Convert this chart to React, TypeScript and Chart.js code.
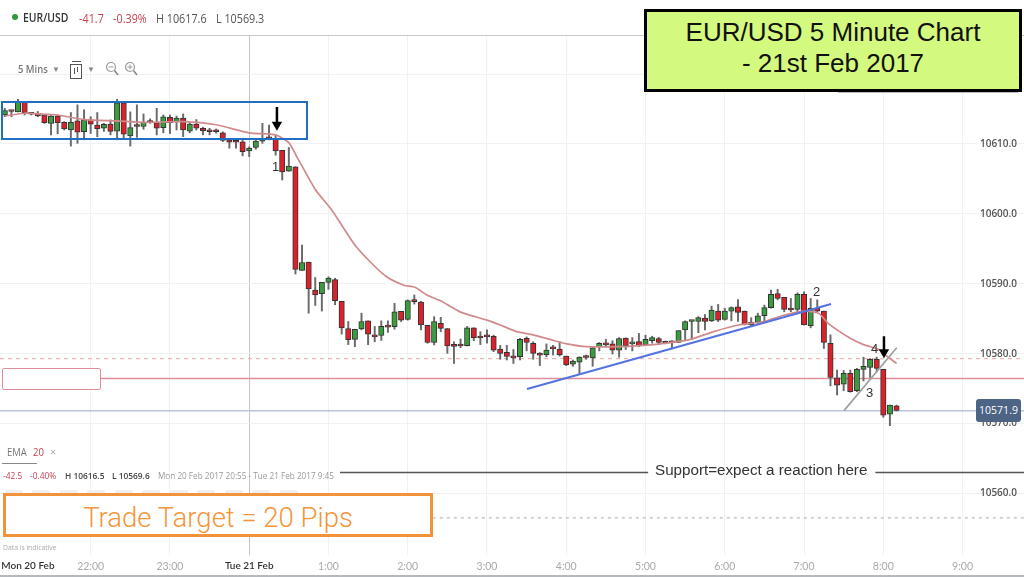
import { useEffect, useRef } from 'react'
import { Chart, registerables } from 'chart.js'

Chart.register(...registerables)

// one candle every 5 minutes, index 0 = Mon 20 Feb 20:55
const opens = [
  10614.15, 10614.7, 10614.6, 10615.95, 10614.4, 10614.4, 10614.15, 10612.95, 10614.0, 10613.1,
  10612.0, 10613.3, 10611.75, 10613.45, 10612.7, 10612.25, 10612.85, 10611.85, 10615.9, 10611.15,
  10612.55, 10612.5, 10613.35, 10613.05, 10612.35, 10613.8, 10613.2, 10613.7, 10611.85, 10612.85,
  10612.25, 10611.85, 10611.9, 10611.6, 10610.6, 10610.35, 10610.3, 10609.0, 10609.5, 10610.4,
  10610.9, 10610.7, 10609.1, 10606.1, 10606.75, 10591.9, 10593.1, 10589.1, 10588.6, 10590.2,
  10590.6, 10587.5, 10583.6, 10582.05, 10583.55, 10584.7, 10582.7, 10582.6, 10583.95, 10583.85,
  10586.05, 10584.9, 10587.55, 10587.4, 10584.05, 10581.6, 10584.35, 10583.6, 10581.1, 10581.3,
  10581.15, 10583.7, 10582.4, 10582.55, 10582.5, 10580.65, 10580.2, 10579.5, 10579.57, 10582.2,
  10581.5, 10579.95, 10579.85, 10580.85, 10580.65, 10579.65, 10578.5, 10578.8, 10579.55, 10579.4,
  10581.0, 10581.4, 10581.4, 10580.5, 10582.25, 10581.4, 10581.75, 10581.3, 10581.85, 10582.15,
  10581.55, 10581.65, 10581.6, 10583.4, 10584.6, 10584.6, 10585.1, 10584.7, 10586.1, 10584.9,
  10586.1, 10586.7, 10586.1, 10584.1, 10584.5, 10585.45, 10586.6, 10588.6, 10588.05, 10586.3,
  10586.35, 10588.5, 10584.0, 10586.5, 10586.1, 10581.5, 10576.55, 10575.65, 10577.2, 10574.7,
  10577.75, 10578.05, 10579.2, 10577.75, 10571.35, 10572.55,
]
const closes = [
  10614.77, 10614.65, 10616.15, 10614.4, 10614.25, 10614.0, 10613.05, 10614.0, 10613.05, 10612.15,
  10613.1, 10611.7, 10613.45, 10612.85, 10612.2, 10612.8, 10611.8, 10615.9, 10611.4, 10612.35,
  10612.5, 10613.15, 10613.05, 10612.25, 10613.9, 10613.05, 10613.7, 10612.0, 10612.85, 10612.25,
  10611.9, 10611.75, 10611.75, 10610.5, 10610.25, 10610.25, 10608.9, 10609.4, 10610.4, 10610.8,
  10610.75, 10609.0, 10606.0, 10606.85, 10592.07, 10593.05, 10589.25, 10588.4, 10590.2, 10590.8,
  10587.6, 10583.7, 10582.0, 10583.5, 10584.6, 10582.8, 10582.4, 10583.9, 10583.8, 10586.0,
  10584.8, 10587.6, 10587.45, 10584.1, 10581.6, 10584.6, 10583.6, 10581.1, 10581.05, 10581.1,
  10583.7, 10582.3, 10582.25, 10582.4, 10580.5, 10580.05, 10579.6, 10579.4, 10582.05, 10581.6,
  10580.05, 10579.8, 10580.5, 10580.7, 10579.85, 10578.4, 10578.95, 10579.5, 10579.45, 10580.85,
  10581.5, 10581.25, 10580.5, 10582.15, 10581.15, 10581.7, 10581.1, 10582.05, 10582.3, 10581.6,
  10581.5, 10581.55, 10583.3, 10584.6, 10584.65, 10585.15, 10584.6, 10586.25, 10584.8, 10586.1,
  10586.6, 10585.9, 10584.2, 10584.5, 10585.4, 10586.6, 10588.5, 10587.9, 10586.35, 10586.25,
  10588.5, 10584.1, 10586.5, 10586.1, 10581.6, 10576.6, 10575.5, 10577.2, 10574.55, 10577.75,
  10578.2, 10579.2, 10577.9, 10571.2, 10572.65, 10571.9,
]
const highs = [
  10615.1, 10614.75, 10616.4, 10616.05, 10614.4, 10614.65, 10614.15, 10614.15, 10614.15, 10613.2,
  10614.5, 10615.6, 10614.9, 10613.9, 10614.5, 10612.95, 10613.45, 10616.4, 10616.0, 10614.6,
  10615.6, 10614.3, 10613.6, 10615.1, 10614.15, 10614.15, 10614.0, 10614.3, 10613.1, 10613.5,
  10612.4, 10612.25, 10612.15, 10611.75, 10610.7, 10610.45, 10610.6, 10609.6, 10610.8, 10612.95,
  10612.7, 10611.3, 10609.1, 10609.5, 10606.75, 10595.55, 10593.1, 10590.9, 10590.2, 10591.0,
  10590.8, 10587.5, 10584.6, 10583.5, 10585.8, 10584.7, 10583.9, 10584.7, 10584.7, 10587.2,
  10586.05, 10587.7, 10588.4, 10587.5, 10584.05, 10585.3, 10585.2, 10583.6, 10581.7, 10582.1,
  10583.9, 10583.7, 10583.15, 10583.4, 10582.65, 10581.2, 10581.2, 10580.6, 10582.2, 10582.4,
  10581.7, 10580.15, 10581.4, 10581.2, 10581.7, 10579.65, 10579.1, 10579.55, 10579.8, 10581.0,
  10581.6, 10582.05, 10581.85, 10582.3, 10582.25, 10582.3, 10582.9, 10582.65, 10582.5, 10582.35,
  10581.8, 10581.85, 10583.3, 10584.7, 10584.75, 10585.3, 10585.6, 10586.8, 10587.05, 10586.5,
  10586.7, 10587.75, 10586.1, 10585.15, 10585.8, 10586.95, 10589.1, 10589.2, 10588.05, 10587.9,
  10588.7, 10588.85, 10587.9, 10587.7, 10586.1, 10582.7, 10577.65, 10577.6, 10577.65, 10577.9,
  10579.5, 10579.3, 10579.5, 10577.75, 10572.65, 10572.65,
]
const lows = [
  10613.9, 10613.9, 10614.6, 10614.15, 10614.15, 10613.9, 10612.95, 10611.3, 10611.45, 10612.0,
  10609.7, 10610.1, 10610.6, 10611.5, 10611.05, 10611.8, 10611.3, 10610.6, 10610.8, 10609.7,
  10610.95, 10612.1, 10612.95, 10611.3, 10611.6, 10611.5, 10612.0, 10611.05, 10611.6, 10612.0,
  10611.3, 10611.3, 10611.55, 10610.35, 10609.4, 10609.4, 10608.3, 10608.2, 10609.25, 10610.1,
  10610.6, 10608.4, 10604.85, 10606.1, 10591.4, 10591.9, 10585.8, 10586.9, 10586.1, 10589.2,
  10587.0, 10582.8, 10581.3, 10581.0, 10583.4, 10581.3, 10581.7, 10581.9, 10583.05, 10583.5,
  10584.6, 10584.8, 10587.1, 10583.4, 10581.5, 10581.25, 10583.15, 10580.05, 10578.6, 10580.85,
  10581.1, 10581.85, 10581.3, 10581.5, 10580.3, 10579.2, 10579.1, 10578.6, 10579.1, 10580.4,
  10579.2, 10578.3, 10579.55, 10579.8, 10579.65, 10578.3, 10578.2, 10577.1, 10579.2, 10578.2,
  10580.4, 10581.0, 10579.95, 10579.5, 10580.6, 10580.4, 10581.0, 10581.15, 10581.5, 10581.3,
  10581.4, 10580.75, 10581.6, 10581.85, 10582.0, 10583.0, 10583.4, 10584.6, 10584.6, 10584.8,
  10584.7, 10584.6, 10584.1, 10584.0, 10584.3, 10584.6, 10586.5, 10587.7, 10586.0, 10586.0,
  10585.9, 10584.1, 10583.7, 10586.0, 10580.75, 10575.4, 10574.1, 10574.7, 10574.5, 10574.55,
  10576.1, 10576.6, 10577.4, 10570.9, 10569.7, 10571.8,
]

const emaIndex = [
  0, 3, 6, 8, 12, 17, 21, 27, 32, 37, 41, 43, 44.2, 47, 49.5, 52.8, 55.3, 57.8, 60.4, 62.1, 63.9,
  65.9, 69, 73, 75, 77.5, 80, 82.5, 85.1, 88.1, 92.7, 96.2, 99.2, 103.8, 107.3, 111.1, 114.9, 117.9,
  120.9, 123.2, 124.7, 128, 130, 132.3, 133.6, 135,
]
const emaValues = [
  10614.0, 10614.4, 10614.25, 10614.15, 10613.5, 10613.3, 10613.1, 10613.2, 10612.75, 10611.6,
  10611.3, 10610.2, 10608.2, 10603.5, 10600.55, 10595.8, 10593.15, 10591, 10589.8, 10589.5, 10588.4,
  10587.6, 10585.95, 10584.8, 10584.1, 10583.15, 10582.7, 10582.05, 10581.4, 10581, 10581, 10581.15,
  10581.4, 10582.05, 10583.15, 10584.1, 10584.6, 10585.5, 10586.1, 10585.8, 10584.3, 10582.2,
  10581.3, 10580.6, 10579.6, 10578.6,
]

const priceTicks = [10620, 10610, 10600, 10590, 10580, 10570, 10560]
const timeTickIndex = [3.5, 13, 25, 37, 49, 61, 73, 85, 97, 109, 121, 133, 145]
const timeTickLabels = ['Mon 20 Feb', '22:00', '23:00', 'Tue 21 Feb', '1:00', '2:00', '3:00', '4:00', '5:00', '6:00', '7:00', '8:00', '9:00']

const targetPrice = 10576.45
const resistPrice = 10579.3
const lastPrice = 10571.85
const supportPrice = 10563.0
const tradeTargetPrice = 10556.5
const blueTrend = [{ x: 79.06, y: 10574.95 }, { x: 125.09, y: 10587.1 }]
const grayTrend = [{ x: 127.05, y: 10571.85 }, { x: 135.03, y: 10580.85 }]
const arrowOne = [{ x: 41.2, y: 10615.3 }, { x: 41.2, y: 10612.75 }]
const arrowTwo = [{ x: 133.1, y: 10582.5 }, { x: 133.1, y: 10580.2 }]

const X_MIN = -0.727
const X_MAX = 154.3

const RED = '#d9222c'
const GREEN = '#3b9c3f'
const UI_FONT = '"Open Sans", sans-serif'
const NOTE_FONT = '"Liberation Sans", sans-serif'
const faintButtons = [5, 32, 60, 87, 115, 142, 170, 197, 225, 252, 280]

function hline(y: number, from: number, to: number, color: string, width: number, dash: number[] = []) {
  return {
    type: 'line' as const,
    data: [{ x: from, y }, { x: to, y }],
    borderColor: color,
    borderWidth: width,
    borderDash: dash,
    pointRadius: 0,
    order: 6,
  }
}

function arrow(points: { x: number; y: number }[]) {
  return {
    type: 'line' as const,
    data: points,
    borderColor: '#000',
    borderWidth: 2.5,
    pointRadius: [0, 6],
    pointStyle: 'triangle',
    pointRotation: 180,
    pointBackgroundColor: '#000',
    pointBorderWidth: 0,
    order: 0,
  }
}

function Txt({ x, y, size, color, children, weight, font, squeeze }: any) {
  return (
    <div
      style={{
        position: 'absolute',
        left: x,
        top: y,
        transform: `translateY(-50%) scaleX(${squeeze ?? 1})`,
        transformOrigin: 'left center',
        fontSize: size,
        color,
        fontWeight: weight ?? 400,
        fontFamily: font ?? UI_FONT,
        whiteSpace: 'nowrap',
        lineHeight: 1,
      }}
    >
      {children}
    </div>
  )
}

function Lens({ x, y, plus }: { x: number; y: number; plus?: boolean }) {
  return (
    <svg style={{ position: 'absolute', left: x, top: y }} width="14" height="15" viewBox="0 0 14 15">
      <circle cx="6" cy="6" r="4.5" fill="none" stroke="#999" strokeWidth="1.2" />
      <path d="M9.5 9.5 L13 14" stroke="#888" strokeWidth="1.6" />
      <path d={plus ? 'M3.5 6 H8.5 M6 3.5 V8.5' : 'M3.5 6 H8.5'} stroke="#999" strokeWidth="1" />
    </svg>
  )
}

function App() {
  const canvasRef = useRef<HTMLCanvasElement>(null)

  useEffect(() => {
    if (!canvasRef.current) return
    const slots = opens.map((_, i) => i)
    const chart = new Chart(canvasRef.current, {
      type: 'bar',
      data: {
        datasets: [
          hline(resistPrice, X_MIN, X_MAX, '#f2b5ae', 1.2, [4, 4]),
          hline(targetPrice, 14.5, X_MAX, '#de8f98', 1.6),
          hline(lastPrice, X_MIN, X_MAX, '#bcc3d6', 1.5),
          hline(supportPrice, 50.75, 97.4, '#555', 1.3),
          hline(supportPrice, 131.8, X_MAX, '#555', 1.3),
          hline(tradeTargetPrice, 64.8, X_MAX, '#bbb', 1.2, [3, 4]),
          {
            label: 'wicks',
            data: slots.map((i) => ({ x: i, y: [lows[i], highs[i]] })),
            backgroundColor: '#6a6a6a',
            barThickness: 1.3,
            grouped: false,
            order: 4,
          },
          {
            label: 'bodies',
            data: slots.map((i) => ({ x: i, y: [opens[i], closes[i]] })),
            backgroundColor: slots.map((i) => (closes[i] >= opens[i] ? GREEN : RED)),
            borderColor: '#333',
            borderWidth: 1,
            borderSkipped: false,
            barThickness: 5.4,
            minBarLength: 2,
            grouped: false,
            order: 3,
          },
          {
            type: 'line',
            label: 'EMA 20',
            data: emaIndex.map((x, i) => ({ x, y: emaValues[i] })),
            borderColor: '#d08a8c',
            borderWidth: 1.7,
            pointRadius: 0,
            tension: 0.2,
            order: 2,
          },
          { type: 'line', data: blueTrend, borderColor: '#5473e0', borderWidth: 2, pointRadius: 0, order: 1 },
          { type: 'line', data: grayTrend, borderColor: '#a0a0a0', borderWidth: 1.7, pointRadius: 0, order: 1 },
          arrow(arrowOne),
          arrow(arrowTwo),
        ] as any,
      },
      options: {
        responsive: false,
        animation: false,
        devicePixelRatio: 1,
        layout: { autoPadding: false, padding: { top: 36, left: 0, right: 0, bottom: 0 } },
        plugins: { legend: { display: false }, tooltip: { enabled: false } },
        scales: {
          x: {
            type: 'linear',
            offset: false,
            min: X_MIN,
            max: X_MAX,
            border: { display: false },
            grid: {
              offset: false,
              drawTicks: false,
              color: (ctx: any) => {
                if (ctx.index === 0) return 'rgba(0,0,0,0)'
                return ctx.index === 3 ? '#c4c4c4' : '#f0f1f5'
              },
            },
            afterFit: (scale: any) => {
              scale.height = 22
              scale.paddingLeft = 0
              scale.paddingRight = 0
            },
            afterBuildTicks: (scale: any) => {
              scale.ticks = timeTickIndex.map((value) => ({ value }))
            },
            ticks: {
              autoSkip: false,
              maxRotation: 0,
              padding: 5,
              color: (ctx: any) => (ctx.index === 0 || ctx.index === 3 ? '#333' : '#aaa'),
              font: (ctx: any) => ({
                family: '"Lato", sans-serif',
                size: ctx.index === 0 || ctx.index === 3 ? 10 : 10.5,
                weight: ctx.index === 0 || ctx.index === 3 ? 600 : 400,
              }),
              callback: (_v: any, i: number) => timeTickLabels[i],
            },
          },
          y: {
            type: 'linear',
            position: 'right',
            min: 10551.2,
            max: 10625.45,
            border: { display: false },
            grid: { drawTicks: false, color: '#f0f1f5' },
            afterFit: (scale: any) => {
              scale.width = 0
              scale.paddingTop = 0
              scale.paddingBottom = 0
            },
            afterBuildTicks: (scale: any) => {
              scale.ticks = priceTicks.map((value) => ({ value }))
            },
            ticks: {
              mirror: true,
              padding: -7,
              color: '#555',
              font: { family: UI_FONT, size: 10, weight: 600 },
              callback: (v: any) => Number(v).toFixed(1),
            },
          },
        },
      },
    })
    return () => chart.destroy()
  }, [])

  return (
    <div style={{ position: 'absolute', left: 0, top: 0, width: 1024, height: 577, overflow: 'hidden', background: '#fff' }}>
      <canvas ref={canvasRef} width={1024} height={577} style={{ position: 'absolute', left: 0, top: 0, display: 'block' }} />

      {/* platform header */}
      <div style={{ position: 'absolute', left: 0, top: 35, width: 1024, height: 1, background: '#c8c8c8' }} />
      <div style={{ position: 'absolute', left: 12, top: 14, width: 6, height: 6, borderRadius: 3, background: '#2f9a3a' }} />
      <Txt x={23} y={17} size={13} color="#333" weight={600} squeeze={0.8}>EUR/USD</Txt>
      <Txt x={79} y={18} size={13} color="#c8414f" squeeze={0.83}>-41.7</Txt>
      <Txt x={113} y={18} size={13} color="#c8414f" squeeze={0.83}>-0.39%</Txt>
      <Txt x={156} y={18} size={13} color="#555" squeeze={0.83}>H 10617.6</Txt>
      <Txt x={216} y={18} size={13} color="#555" squeeze={0.83}>L 10569.3</Txt>

      <Txt x={18} y={69} size={10.5} color="#777" weight={600} squeeze={0.9}>5 Mins</Txt>
      <Txt x={52} y={69} size={8} color="#888">▼</Txt>
      <div style={{ position: 'absolute', left: 70, top: 64, width: 10, height: 13, border: '1px solid #555', background: '#fff' }} />
      <div style={{ position: 'absolute', left: 72, top: 61, width: 9, height: 1, background: '#555' }} />
      <div style={{ position: 'absolute', left: 74, top: 68, width: 1, height: 6, background: '#555' }} />
      <div style={{ position: 'absolute', left: 77, top: 67, width: 1, height: 5, background: '#555' }} />
      <Txt x={87} y={69} size={8} color="#888">▼</Txt>
      <Lens x={105} y={61} />
      <Lens x={124} y={61} plus />

      {/* tab peeking out under the title */}
      <div style={{ position: 'absolute', left: 837, top: 80, width: 180, height: 11, border: '1px solid #bbb', borderRadius: 2, background: '#fff' }} />
      <div style={{ position: 'absolute', left: 926, top: 80, width: 1, height: 11, background: '#bbb' }} />

      {/* annotations */}
      <div
        style={{
          position: 'absolute', left: 644, top: 9, width: 372, height: 71, border: '3.5px solid #000', background: '#d3f97e',
          fontFamily: NOTE_FONT, fontSize: 26, lineHeight: '31px', textAlign: 'center', color: '#111', paddingTop: 6, boxSizing: 'content-box',
        }}
      >
        <div style={{ marginTop: -1 }}>EUR/USD 5 Minute Chart</div>
        <div>- 21st Feb 2017</div>
      </div>

      <div style={{ position: 'absolute', left: 1, top: 101, width: 303, height: 35, border: '2px solid #1f6fc4' }} />
      <div style={{ position: 'absolute', left: 2, top: 368, width: 97, height: 20, border: '1.5px solid #de8f98', borderRadius: 2, background: '#fff' }} />

      <Txt x={272} y={166} size={13} color="#333" font={NOTE_FONT}>1</Txt>
      <Txt x={813} y={291} size={13} color="#333" font={NOTE_FONT}>2</Txt>
      <Txt x={866} y={392} size={13} color="#333" font={NOTE_FONT}>3</Txt>
      <Txt x={871} y={348} size={13} color="#333" font={NOTE_FONT}>4</Txt>

      <div style={{ position: 'absolute', left: 976, top: 399, width: 45, height: 23, borderRadius: 3, background: '#4d6484', color: '#fff', fontFamily: UI_FONT, fontSize: 10.5, lineHeight: '23px', textAlign: 'center' }}>
        10571.9
      </div>

      <Txt x={655} y={470} size={15.2} color="#333" font={NOTE_FONT}>Support=expect a reaction here</Txt>

      {/* EMA legend and range */}
      <Txt x={7} y={452} size={10.5} color="#777" squeeze={0.9}>EMA</Txt>
      <Txt x={33} y={452} size={10.5} color="#c8414f" squeeze={0.9}>20</Txt>
      <Txt x={50} y={451} size={11} color="#aaa">×</Txt>
      <div style={{ position: 'absolute', left: 2, top: 463, width: 35, height: 1, background: '#888' }} />
      <Txt x={3} y={476} size={9.5} color="#c8414f" squeeze={0.88}>-42.5</Txt>
      <Txt x={30} y={476} size={9.5} color="#c8414f" squeeze={0.88}>-0.40%</Txt>
      <Txt x={65} y={476} size={9.5} color="#444" weight={600} squeeze={0.88}>H 10616.5</Txt>
      <Txt x={112} y={476} size={9.5} color="#444" weight={600} squeeze={0.88}>L 10569.6</Txt>
      <Txt x={158} y={476} size={9.5} color="#999" squeeze={0.86}>Mon 20 Feb 2017 20:55 - Tue 21 Feb 2017 9:45</Txt>
      <Txt x={3} y={547} size={8} color="#aaa" squeeze={0.85}>Data is indicative</Txt>

      {faintButtons.map((left) => (
        <div key={left} style={{ position: 'absolute', left, top: 490, width: 18, height: 5, borderRadius: 2, background: '#f0f0f0' }} />
      ))}

      <div
        style={{
          position: 'absolute', left: 3, top: 493, width: 424, height: 38, border: '3.5px solid #f2923a', background: '#fff',
          fontFamily: '"Roboto", sans-serif', fontWeight: 300, fontSize: 27.5, lineHeight: '44px', textAlign: 'center', color: '#f2963a',
        }}
      >
        Trade Target = 20 Pips
      </div>

      <div style={{ position: 'absolute', left: 0, top: 575, width: 1024, height: 2, background: '#b5b8bd' }} />
    </div>
  )
}

export default App
